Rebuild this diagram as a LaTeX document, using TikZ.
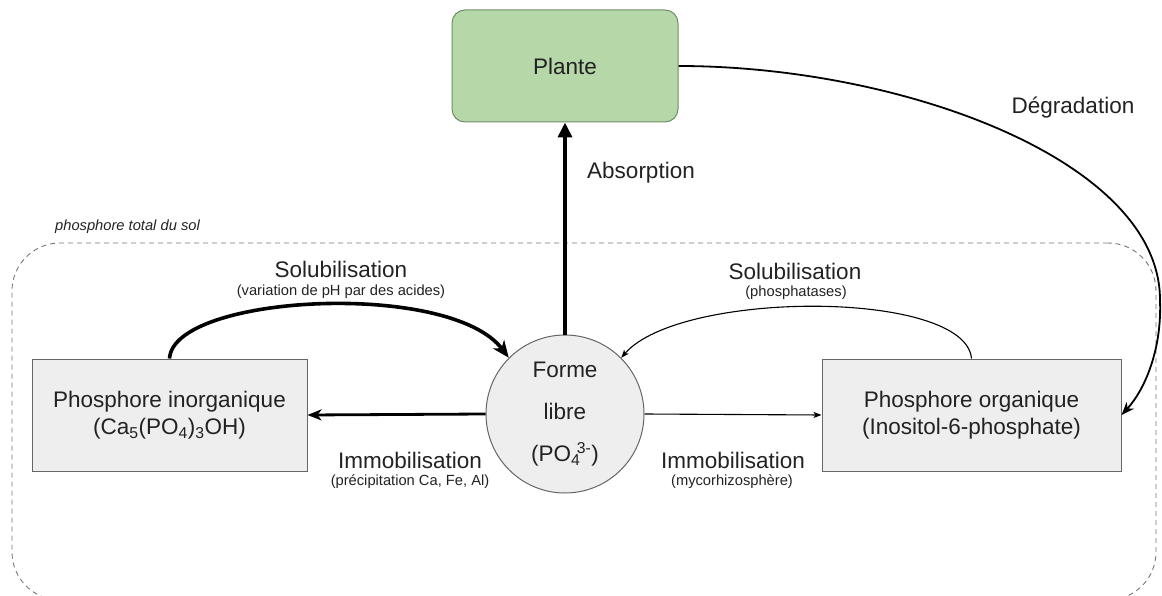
\documentclass[tikz,border=0pt]{standalone}
\usepackage{fontspec}
\setmainfont{Liberation Sans}
\usetikzlibrary{arrows.meta}
\definecolor{plantfill}{HTML}{B6D7A8}
\definecolor{plantdraw}{HTML}{6E8F66}
\definecolor{boxfill}{HTML}{EEEEEE}
\definecolor{boxdraw}{HTML}{666666}
\definecolor{soildraw}{HTML}{777777}
\definecolor{txt}{HTML}{222222}
\begin{document}
\begin{tikzpicture}[x=1pt,y=-1pt,
  big/.style={font=\fontsize{22.5}{27}\selectfont, text=txt},
  small/.style={font=\fontsize{14.7}{17}\selectfont, text=txt},
  pbox/.style={draw=boxdraw, fill=boxfill, line width=1pt, inner sep=0pt,
    minimum height=112pt, align=center, big},
  plantbox/.style={draw=plantdraw, fill=plantfill, line width=1pt, inner sep=0pt,
    rounded corners=13pt, minimum width=226pt, minimum height=112pt, big},
  freecircle/.style={circle, draw=boxdraw, fill=boxfill, line width=1pt, inner sep=0pt,
    minimum size=158pt, align=center, font=\fontsize{22.5}{42}\selectfont, text=txt},
  soilbox/.style={draw=soildraw, line width=0.9pt, dash pattern=on 5pt off 4pt,
    rounded corners=48pt, inner sep=0pt},
  lbl/.style={inner sep=0pt, align=center},
  heavy/.style={line width=3.6pt, -{Stealth[length=17pt,width=14pt,inset=5pt]}},
  medium/.style={line width=2.8pt, -{Stealth[length=14pt,width=11pt,inset=4pt]}},
  thin/.style={line width=1.1pt, -{Stealth[length=8pt,width=6pt,inset=2pt]}},
  degr/.style={line width=1.8pt, -{Stealth[length=13pt,width=10pt,inset=4pt]}},
  absorb/.style={line width=3.6pt, -{Triangle[length=15pt,width=14pt]}}
]
\useasboundingbox (0,0) rectangle (1162,596);

% soil region
\node[soilbox, minimum width=1144pt, minimum height=357pt] (soil) at (584,421.5) {};
\node[small, lbl, font=\fontsize{14.7}{17}\selectfont\itshape, anchor=west] (soiltitle) at (55,227) {phosphore total du sol};

% nodes
\node[plantbox] (plante) at (565,66) {Plante};
\node[pbox, minimum width=275pt] (inorg) at (169.5,415)
  {Phosphore inorganique\\(Ca\textsubscript{5}(PO\textsubscript{4})\textsubscript{3}OH)};
\node[pbox, minimum width=299pt] (org) at (971.5,415)
  {Phosphore organique\\(Inositol-6-phosphate)};
\node[freecircle] (libre) at (565,414)
  {Forme\\libre\\(PO\textsubscript{4}\kern-0.15em\textsuperscript{3-})};

% connectors
\draw[absorb] (libre.north) -- (plante.south);
\draw[medium] (libre.west) -- (inorg.east);
\draw[thin] (libre.east) -- (org.west);
\draw[heavy] (inorg.north) .. controls +(4,-64) and +(-59,-78) .. (libre.135);
\draw[thin] (org.north) .. controls +(-6,-69) and +(59,-68) .. (libre.45);
\draw[degr] (plante.east) .. controls +(222,0) and (1160,160) .. (1160,300)
  .. controls +(2,50) and +(23,-25) .. (org.east);

% labels
\node[big, lbl] (labs) at (641,173) {Absorption};
\node[big, lbl] (ldeg) at (1073,108) {Dégradation};
\node[big, lbl] (lsol1) at (341,269) {Solubilisation};
\node[small, lbl] (lsol1s) at (341,292) {(variation de pH par des acides)};
\node[big, lbl] (lsol2) at (795,271) {Solubilisation};
\node[small, lbl] (lsol2s) at (796,293) {(phosphatases)};
\node[big, lbl] (limm1) at (410,460) {Immobilisation};
\node[small, lbl] (limm1s) at (410,482) {(précipitation Ca, Fe, Al)};
\node[big, lbl] (limm2) at (733,460) {Immobilisation};
\node[small, lbl] (limm2s) at (732,482) {(mycorhizosphère)};
\end{tikzpicture}
\end{document}
